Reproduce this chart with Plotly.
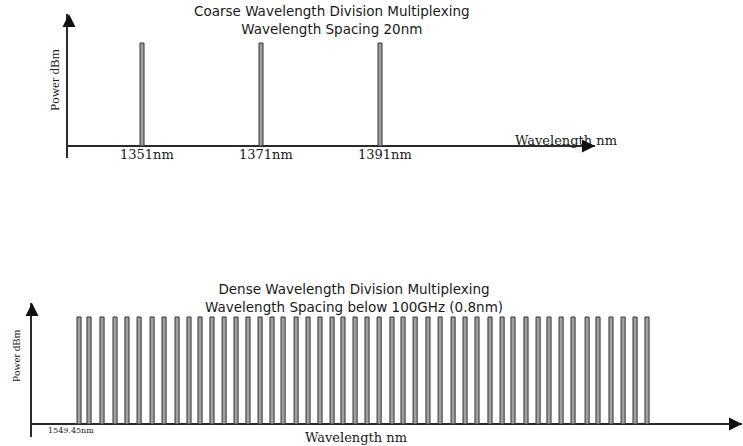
import plotly.graph_objects as go

W, H = 743, 446

# ---- data ----
cwdm_wavelengths = [1351, 1371, 1391]
cwdm_power = [1.0, 1.0, 1.0]
cwdm_labels = ["1351nm", "1371nm", "1391nm"]

dwdm_wavelengths = [
    1549.45, 1550.11, 1550.97, 1551.83, 1552.62, 1553.42, 1554.28, 1555.07,
    1555.93, 1556.72, 1557.45, 1558.24, 1559.04, 1559.83, 1560.62, 1561.42,
    1562.21, 1562.94, 1563.80, 1564.59, 1565.38, 1566.18, 1566.90, 1567.70,
    1568.49, 1569.29, 1570.14, 1570.87, 1571.67, 1572.52, 1573.32, 1574.18,
    1574.97, 1575.76, 1576.62, 1577.42, 1578.14, 1579.00, 1579.80, 1580.52,
    1581.32, 1582.11, 1583.04, 1583.76, 1584.62, 1585.42, 1586.21, 1587.00,
]
dwdm_power = [
    1.0, 1.0, 1.0, 1.0, 1.0, 1.0, 1.0, 1.0, 1.0, 1.0, 1.0, 1.0,
    1.0, 1.0, 1.0, 1.0, 1.0, 1.0, 1.0, 1.0, 1.0, 1.0, 1.0, 1.0,
    1.0, 1.0, 1.0, 1.0, 1.0, 1.0, 1.0, 1.0, 1.0, 1.0, 1.0, 1.0,
    1.0, 1.0, 1.0, 1.0, 1.0, 1.0, 1.0, 1.0, 1.0, 1.0, 1.0, 1.0,
]
dwdm_first_label = "1549.45nm"

cwdm_title = "Coarse Wavelength Division Multiplexing<br>Wavelength Spacing 20nm"
dwdm_title = "Dense Wavelength Division Multiplexing<br>Wavelength Spacing below 100GHz (0.8nm)"


def px(x):
    return x / W


def py(y):
    return 1 - y / H


AX = "#2a2a2a"
BAR_FILL = "#a0a0a0"
BAR_EDGE = "#333333"

fig = go.Figure()

fig.add_trace(go.Bar(
    x=cwdm_wavelengths, y=cwdm_power, width=0.67,
    marker=dict(color=BAR_FILL, line=dict(color=BAR_EDGE, width=1)),
    xaxis="x", yaxis="y", showlegend=False, hoverinfo="skip",
))
fig.add_trace(go.Bar(
    x=dwdm_wavelengths, y=dwdm_power, width=0.27,
    marker=dict(color=BAR_FILL, line=dict(color=BAR_EDGE, width=1)),
    xaxis="x2", yaxis="y2", showlegend=False, hoverinfo="skip",
))

common_x = dict(showline=False, showgrid=False, zeroline=False,
                showticklabels=False, ticks="")
common_y = dict(showline=True, linecolor=AX, linewidth=2, showgrid=False,
                zeroline=True, zerolinecolor=AX, zerolinewidth=2,
                showticklabels=False, ticks="")

fig.update_layout(
    width=W, height=H, autosize=False,
    margin=dict(l=0, r=0, t=0, b=0),
    paper_bgcolor="white", plot_bgcolor="white",
    xaxis=dict(domain=[px(68), px(595)], range=[1338.56, 1427.13],
               anchor="y", **common_x),
    yaxis=dict(domain=[py(158), py(14)], range=[-0.1165, 1.2816],
               anchor="x", **common_y),
    xaxis2=dict(domain=[px(32), px(742)], range=[1546.34, 1593.28],
                anchor="y2", **common_x),
    yaxis2=dict(domain=[py(437), py(303)], range=[-0.1215, 1.1308],
                anchor="x2", **common_y),
)

ann = []
SANS = "DejaVu Sans"
SERIF = "DejaVu Serif"


def text(t, x, y, size, family, color="#1a1a1a", angle=0):
    ann.append(dict(text=t, x=px(x), y=py(y), xref="paper", yref="paper",
                    showarrow=False, xanchor="center", yanchor="middle",
                    textangle=angle, align="center",
                    font=dict(size=size, family=family, color=color)))


# titles
text(cwdm_title, 332, 20, 13.5, SANS)
text(dwdm_title, 354, 298, 13.5, SANS)

# axis titles
text("Wavelength nm", 566, 140, 13, SERIF)
text("Wavelength nm", 356, 437, 13, SERIF)
text("Power dBm", 55, 80, 13, "Liberation Serif", angle=-90)
text("Power dBm", 16, 356, 11, "Liberation Serif", angle=-90)

# wavelength labels under CWDM lines
for wl, lab in zip(cwdm_wavelengths, cwdm_labels):
    ann.append(dict(text=lab, x=wl, y=0, xref="x", yref="y",
                    showarrow=False, xanchor="center", yanchor="middle",
                    xshift=5, yshift=-8,
                    font=dict(size=13, family=SERIF, color="#1a1a1a")))

ann.append(dict(text=dwdm_first_label, x=dwdm_wavelengths[0], y=0,
                xref="x2", yref="y2", showarrow=False,
                xanchor="center", yanchor="middle", xshift=-8, yshift=-6,
                font=dict(size=8, family=SERIF, color="#1a1a1a")))


# arrow heads at axis ends
def arrow(x, y, ax, ay):
    ann.append(dict(text="", x=px(x), y=py(y), xref="paper", yref="paper",
                    showarrow=True, ax=ax, ay=ay, arrowhead=2,
                    arrowsize=1.3, arrowwidth=2, arrowcolor="#111"))


arrow(69, 14, 0, 14)
arrow(32, 303, 0, 14)
arrow(595, 146, -14, 0)
arrow(742, 424, -14, 0)

fig.update_layout(annotations=ann)

fig.write_html(
    "out.html",
    config={"displayModeBar": False},
    post_script="document.body.style.margin='0';document.body.style.overflow='hidden';",
)
